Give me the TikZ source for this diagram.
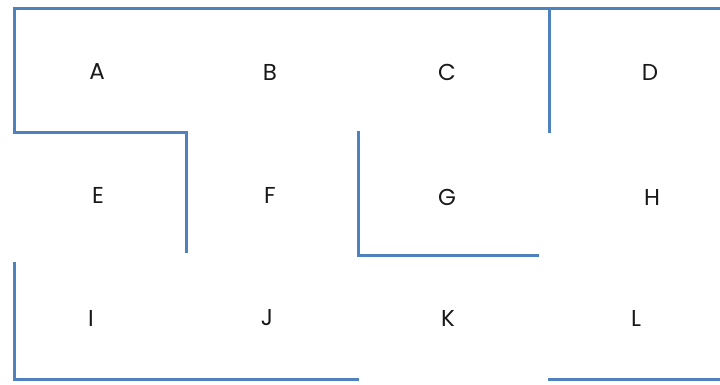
\documentclass[tikz,border=0pt]{standalone}
\usepackage{fontspec}
\setmainfont{Poppins}
\definecolor{wall}{RGB}{79,129,189}
\begin{document}
\begin{tikzpicture}[x=1pt,y=-1pt,
  wallline/.style={draw=wall,line width=3pt,line cap=butt,line join=miter},
  room/.style={font=\fontsize{23}{26}\selectfont,text=black!90,inner sep=0pt}]
\useasboundingbox (0,0) rectangle (720,385);
\fill[white] (0,0) rectangle (720,385);
% walls
\draw[wallline] (720,9) -- (14,9) -- (14,133) -- (186,133) -- (186,253);
\draw[wallline] (549,9) -- (549,133);
\draw[wallline] (358,131) -- (358,255) -- (539,255);
\draw[wallline] (14,262) -- (14,379) -- (359,379);
\draw[wallline] (548,379) -- (720,379);
% rooms
\node[room] (A) at (97,72) {A};
\node[room] (B) at (270,72) {B};
\node[room] (C) at (447,72) {C};
\node[room] (D) at (650,72) {D};
\node[room] (E) at (98,195) {E};
\node[room] (F) at (270,195) {F};
\node[room] (G) at (447,197) {G};
\node[room] (H) at (652,197) {H};
\node[room] (I) at (91,318) {I};
\node[room] (J) at (267,318) {J};
\node[room] (K) at (448,318) {K};
\node[room] (L) at (636,318) {L};
\end{tikzpicture}
\end{document}
